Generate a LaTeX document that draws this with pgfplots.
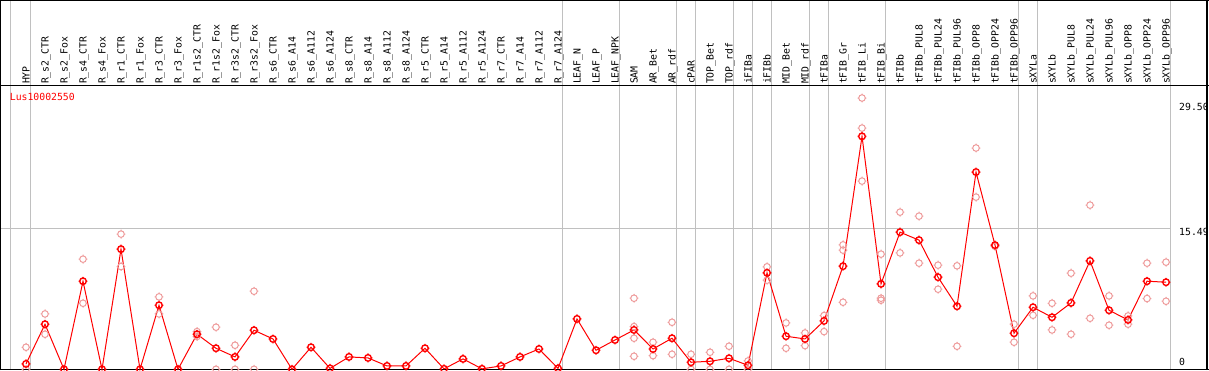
\documentclass[border=0pt]{standalone}
\usepackage{pgfplots}
\pgfplotsset{compat=1.18}
\usepackage{fontspec}
\newfontfamily\monofont{DejaVu Sans Mono}
\definecolor{gridgray}{RGB}{192,192,192}
\definecolor{repred}{RGB}{238,155,155}
\pgfdeclareplotmark{ctick}{%
  \pgfpathcircle{\pgfpointorigin}{\pgfplotmarksize}%
  \pgfpathmoveto{\pgfpoint{0pt}{0.9\pgfplotmarksize}}\pgfpathlineto{\pgfpoint{0pt}{1.35\pgfplotmarksize}}%
  \pgfpathmoveto{\pgfpoint{0pt}{-0.9\pgfplotmarksize}}\pgfpathlineto{\pgfpoint{0pt}{-1.35\pgfplotmarksize}}%
  \pgfpathmoveto{\pgfpoint{0.9\pgfplotmarksize}{0pt}}\pgfpathlineto{\pgfpoint{1.35\pgfplotmarksize}{0pt}}%
  \pgfpathmoveto{\pgfpoint{-0.9\pgfplotmarksize}{0pt}}\pgfpathlineto{\pgfpoint{-1.35\pgfplotmarksize}{0pt}}%
  \pgfusepathqstroke}
\pgfplotstableread{
i v
0 0.59
1 4.95
2 0
3 9.67
4 0
5 13.19
6 0
7 7.03
8 0
9 3.85
10 2.31
11 1.36
12 4.29
13 3.33
14 0
15 2.42
16 0.1
17 1.36
18 1.25
19 0.37
20 0.37
21 2.31
22 0.05
23 1.14
24 0.05
25 0.37
26 1.36
27 2.23
28 0.1
29 5.53
30 2.09
31 3.22
32 4.32
33 2.23
34 3.41
35 0.77
36 0.88
37 1.21
38 0.44
39 10.59
40 3.63
41 3.33
42 5.31
43 11.32
44 25.57
45 9.38
46 15.05
47 14.18
48 10.11
49 6.92
50 21.65
51 13.63
52 3.96
53 6.81
54 5.71
55 7.29
56 11.90
57 6.48
58 5.42
59 9.67
60 9.56
}\meantable
\pgfplotstableread{
i v
0 2.42
0 0
1 6.08
1 3.85
3 12.09
3 7.25
5 14.84
5 11.28
7 7.95
7 6.08
9 4.14
9 3.6
10 4.62
10 0
11 2.64
11 0
12 8.57
12 0
32 7.80
32 4.69
32 3.41
32 1.43
33 2.97
33 1.50
34 5.16
34 1.65
35 1.65
35 0
36 1.87
36 0
37 2.53
37 0
38 0.92
38 0
39 11.25
39 9.78
40 5.09
40 2.31
41 3.99
41 2.60
42 5.90
42 4.14
43 13.66
43 13.08
43 7.36
44 29.78
44 26.48
44 20.66
45 12.64
45 7.80
45 7.58
46 17.25
46 12.78
47 16.81
47 11.65
48 11.43
48 8.79
49 11.36
49 2.53
50 24.29
50 18.90
51 13.5
52 4.95
52 2.97
53 8.06
53 5.93
54 7.25
54 4.32
55 10.55
55 3.85
56 18.02
56 5.60
57 8.06
57 4.84
58 5.86
58 4.95
59 11.65
59 7.77
60 11.76
60 7.47
}\reptable
\begin{document}
\begin{tikzpicture}
\begin{scope}[x=1pt,y=1pt]
\foreach \gx in {10.7,30.7,562.7,619.7,676.7,695.7,733.7,752.7,771.7,809.7,828.7,885.7,1018.7,1037.7,1170.7}
  \draw[gridgray, line width=1pt] (\gx,0) -- (\gx,370);
\draw[gridgray, line width=1pt] (0,141.7) -- (1170.7,141.7);
\draw[black, line width=1pt] (0,369.5) -- (1209,369.5);
\draw[black, line width=1.2pt] (0.6,0) -- (0.6,370);
\draw[black, line width=1.2pt] (1207,0) -- (1207,370);
\draw[black, line width=1pt] (0,284) -- (1209,284);
\draw[black, line width=1.5pt] (0,0.75) -- (1209,0.75);
\end{scope}
\begin{axis}[
  at={(0pt,0pt)}, anchor=south west,
  scale only axis, width=1209pt, height=284pt,
  xmin=-1.3684, xmax=62.263, ymin=-0.077, ymax=31.132,
  axis x line*=top, axis y line=none,
  x axis line style={draw=none},
  major tick length=0pt,
  xtick={0,...,60},
  xticklabels={HYP,R\_s2\_CTR,R\_s2\_Fox,R\_s4\_CTR,R\_s4\_Fox,R\_r1\_CTR,R\_r1\_Fox,R\_r3\_CTR,R\_r3\_Fox,R\_r1s2\_CTR,R\_r1s2\_Fox,R\_r3s2\_CTR,R\_r3s2\_Fox,R\_s6\_CTR,R\_s6\_A14,R\_s6\_A112,R\_s6\_A124,R\_s8\_CTR,R\_s8\_A14,R\_s8\_A112,R\_s8\_A124,R\_r5\_CTR,R\_r5\_A14,R\_r5\_A112,R\_r5\_A124,R\_r7\_CTR,R\_r7\_A14,R\_r7\_A112,R\_r7\_A124,LEAF\_N,LEAF\_P,LEAF\_NPK,SAM,AR\_Bet,AR\_rdf,cPAR,TOP\_Bet,TOP\_rdf,iFIBa,iFIBb,MID\_Bet,MID\_rdf,tFIBa,tFIB\_Gr,tFIB\_Li,tFIB\_Bi,tFIBb,tFIBb\_PUL8,tFIBb\_PUL24,tFIBb\_PUL96,tFIBb\_OPP8,tFIBb\_OPP24,tFIBb\_OPP96,sXYLa,sXYLb,sXYLb\_PUL8,sXYLb\_PUL24,sXYLb\_PUL96,sXYLb\_OPP8,sXYLb\_OPP24,sXYLb\_OPP96},
  xticklabel style={font={\monofont\fontsize{9.8}{10}\selectfont}, anchor=base west, inner sep=0pt, xshift=3.5pt, yshift=1.5pt, rotate=90},
  ytick=\empty,
  clip=false,
]
\addplot[only marks, repred, mark=ctick, mark size=3.3pt, mark options={line width=1pt}] table[x=i,y=v] {\reptable};
\addplot[red, line width=1pt, mark=ctick, mark size=3.3pt, mark options={line width=1.4pt}] table[x=i,y=v] {\meantable};
\node[anchor=west, inner sep=0pt, text=red, font={\monofont\fontsize{9.8}{10}\selectfont}] at (axis cs:-0.858,29.92) {Lus10002550};
\node[anchor=west, inner sep=0pt, font={\monofont\fontsize{9.8}{10}\selectfont}] at (axis cs:60.684,28.82) {29.50};
\node[anchor=west, inner sep=0pt, font={\monofont\fontsize{9.8}{10}\selectfont}] at (axis cs:60.684,15.09) {15.49};
\node[anchor=west, inner sep=0pt, font={\monofont\fontsize{9.8}{10}\selectfont}] at (axis cs:60.684,0.80) {0};
\end{axis}
\pgfresetboundingbox
\path[use as bounding box] (0,0) rectangle (1209pt,370pt);
\end{tikzpicture}
\end{document}
